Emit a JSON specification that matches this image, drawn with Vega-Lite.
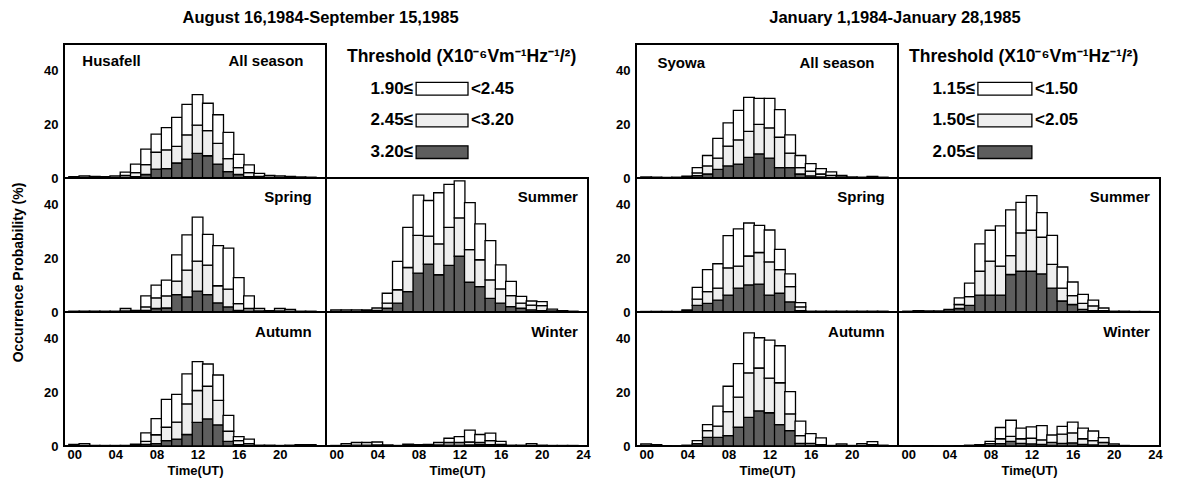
{
"$schema": "https://vega.github.io/schema/vega-lite/v6.json",
"background": "white",
"padding": {"left": 9, "top": 9, "right": 5, "bottom": 5},
"datasets": {"hist": [
{"s":"Husafell","p":"All season","h":0,"a":0,"b":0.1,"c":0.4},{"s":"Husafell","p":"All season","h":1,"a":0,"b":0.2,"c":0.6},{"s":"Husafell","p":"All season","h":2,"a":0,"b":0.1,"c":0.5},{"s":"Husafell","p":"All season","h":3,"a":0,"b":0.1,"c":0.4},{"s":"Husafell","p":"All season","h":4,"a":0.1,"b":0.1,"c":0.6},{"s":"Husafell","p":"All season","h":5,"a":0.3,"b":0.7,"c":1.2},{"s":"Husafell","p":"All season","h":6,"a":0.5,"b":1.5,"c":3.2},{"s":"Husafell","p":"All season","h":7,"a":1.3,"b":3.7,"c":5.8},{"s":"Husafell","p":"All season","h":8,"a":3.3,"b":6.3,"c":6.8},{"s":"Husafell","p":"All season","h":9,"a":3.5,"b":7.0,"c":8.3},{"s":"Husafell","p":"All season","h":10,"a":5.6,"b":6.2,"c":10.8},{"s":"Husafell","p":"All season","h":11,"a":7.0,"b":9.1,"c":11.4},{"s":"Husafell","p":"All season","h":12,"a":9.2,"b":10.5,"c":11.4},{"s":"Husafell","p":"All season","h":13,"a":8.3,"b":9.4,"c":10.2},{"s":"Husafell","p":"All season","h":14,"a":5.2,"b":7.7,"c":10.7},{"s":"Husafell","p":"All season","h":15,"a":2.4,"b":4.8,"c":9.8},{"s":"Husafell","p":"All season","h":16,"a":1.3,"b":2.6,"c":4.9},{"s":"Husafell","p":"All season","h":17,"a":0.5,"b":1.5,"c":2.9},{"s":"Husafell","p":"All season","h":18,"a":0.2,"b":0.4,"c":1.1},{"s":"Husafell","p":"All season","h":19,"a":0.1,"b":0.2,"c":0.7},{"s":"Husafell","p":"All season","h":20,"a":0,"b":0.2,"c":0.6},{"s":"Husafell","p":"All season","h":21,"a":0,"b":0.1,"c":0.5},{"s":"Husafell","p":"All season","h":22,"a":0,"b":0.1,"c":0.3},{"s":"Husafell","p":"All season","h":23,"a":0,"b":0.1,"c":0.2},
{"s":"Husafell","p":"Spring","h":0,"a":0,"b":0.1,"c":0.2},{"s":"Husafell","p":"Spring","h":1,"a":0,"b":0.1,"c":0.2},{"s":"Husafell","p":"Spring","h":2,"a":0,"b":0.1,"c":0.2},{"s":"Husafell","p":"Spring","h":3,"a":0,"b":0.1,"c":0.2},{"s":"Husafell","p":"Spring","h":4,"a":0,"b":0.1,"c":0.2},{"s":"Husafell","p":"Spring","h":5,"a":0.1,"b":0.3,"c":0.9},{"s":"Husafell","p":"Spring","h":6,"a":0,"b":0.2,"c":0.4},{"s":"Husafell","p":"Spring","h":7,"a":0.6,"b":1.3,"c":4.1},{"s":"Husafell","p":"Spring","h":8,"a":1.3,"b":4.0,"c":4.7},{"s":"Husafell","p":"Spring","h":9,"a":1.5,"b":4.5,"c":5.9},{"s":"Husafell","p":"Spring","h":10,"a":6.5,"b":5.0,"c":9.8},{"s":"Husafell","p":"Spring","h":11,"a":5.6,"b":10.0,"c":13.2},{"s":"Husafell","p":"Spring","h":12,"a":7.8,"b":11.2,"c":16.4},{"s":"Husafell","p":"Spring","h":13,"a":6.5,"b":11.0,"c":11.5},{"s":"Husafell","p":"Spring","h":14,"a":3.4,"b":6.4,"c":15.0},{"s":"Husafell","p":"Spring","h":15,"a":1.9,"b":6.6,"c":15.3},{"s":"Husafell","p":"Spring","h":16,"a":0.6,"b":2.5,"c":9.7},{"s":"Husafell","p":"Spring","h":17,"a":0.3,"b":1.0,"c":4.7},{"s":"Husafell","p":"Spring","h":18,"a":0.1,"b":0.3,"c":0.9},{"s":"Husafell","p":"Spring","h":19,"a":0,"b":0.1,"c":0.4},{"s":"Husafell","p":"Spring","h":20,"a":0.1,"b":0.3,"c":0.9},{"s":"Husafell","p":"Spring","h":21,"a":0,"b":0.3,"c":0.7},{"s":"Husafell","p":"Spring","h":22,"a":0,"b":0.1,"c":0.2},{"s":"Husafell","p":"Spring","h":23,"a":0,"b":0.1,"c":0.2},
{"s":"Husafell","p":"Summer","h":0,"a":0,"b":0.2,"c":0.6},{"s":"Husafell","p":"Summer","h":1,"a":0,"b":0.2,"c":0.6},{"s":"Husafell","p":"Summer","h":2,"a":0,"b":0.2,"c":0.6},{"s":"Husafell","p":"Summer","h":3,"a":0.1,"b":0.2,"c":0.5},{"s":"Husafell","p":"Summer","h":4,"a":0.2,"b":0.4,"c":0.9},{"s":"Husafell","p":"Summer","h":5,"a":1.4,"b":1.9,"c":3.7},{"s":"Husafell","p":"Summer","h":6,"a":3.3,"b":5.0,"c":10.6},{"s":"Husafell","p":"Summer","h":7,"a":7.6,"b":9.0,"c":15.0},{"s":"Husafell","p":"Summer","h":8,"a":14.5,"b":14.1,"c":15.0},{"s":"Husafell","p":"Summer","h":9,"a":17.9,"b":10.4,"c":13.3},{"s":"Husafell","p":"Summer","h":10,"a":13.9,"b":11.5,"c":19.1},{"s":"Husafell","p":"Summer","h":11,"a":17.4,"b":14.2,"c":16.0},{"s":"Husafell","p":"Summer","h":12,"a":20.8,"b":14.3,"c":13.8},{"s":"Husafell","p":"Summer","h":13,"a":11.1,"b":12.2,"c":17.5},{"s":"Husafell","p":"Summer","h":14,"a":9.5,"b":10.0,"c":13.4},{"s":"Husafell","p":"Summer","h":15,"a":5.1,"b":6.9,"c":14.6},{"s":"Husafell","p":"Summer","h":16,"a":3.3,"b":5.3,"c":9.0},{"s":"Husafell","p":"Summer","h":17,"a":2.0,"b":4.1,"c":5.3},{"s":"Husafell","p":"Summer","h":18,"a":1.4,"b":1.9,"c":2.5},{"s":"Husafell","p":"Summer","h":19,"a":0.8,"b":1.8,"c":1.5},{"s":"Husafell","p":"Summer","h":20,"a":0.5,"b":1.9,"c":1.5},{"s":"Husafell","p":"Summer","h":21,"a":0.1,"b":0.3,"c":0.7},{"s":"Husafell","p":"Summer","h":22,"a":0,"b":0.1,"c":0.4},{"s":"Husafell","p":"Summer","h":23,"a":0,"b":0.1,"c":0.2},
{"s":"Husafell","p":"Autumn","h":0,"a":0,"b":0.1,"c":0.5},{"s":"Husafell","p":"Autumn","h":1,"a":0,"b":0.2,"c":0.7},{"s":"Husafell","p":"Autumn","h":2,"a":0,"b":0,"c":0.2},{"s":"Husafell","p":"Autumn","h":3,"a":0,"b":0,"c":0.2},{"s":"Husafell","p":"Autumn","h":4,"a":0,"b":0,"c":0.2},{"s":"Husafell","p":"Autumn","h":5,"a":0,"b":0,"c":0.2},{"s":"Husafell","p":"Autumn","h":6,"a":0,"b":0.2,"c":0.5},{"s":"Husafell","p":"Autumn","h":7,"a":0.6,"b":1.1,"c":3.2},{"s":"Husafell","p":"Autumn","h":8,"a":0.9,"b":3.3,"c":6.0},{"s":"Husafell","p":"Autumn","h":9,"a":2.0,"b":5.0,"c":10.4},{"s":"Husafell","p":"Autumn","h":10,"a":2.6,"b":6.3,"c":10.4},{"s":"Husafell","p":"Autumn","h":11,"a":4.3,"b":11.4,"c":11.2},{"s":"Husafell","p":"Autumn","h":12,"a":8.8,"b":11.9,"c":10.8},{"s":"Husafell","p":"Autumn","h":13,"a":10.1,"b":12.2,"c":8.3},{"s":"Husafell","p":"Autumn","h":14,"a":7.9,"b":9.1,"c":9.5},{"s":"Husafell","p":"Autumn","h":15,"a":1.7,"b":3.8,"c":5.9},{"s":"Husafell","p":"Autumn","h":16,"a":0.5,"b":1.5,"c":1.5},{"s":"Husafell","p":"Autumn","h":17,"a":0.2,"b":0.7,"c":1.7},{"s":"Husafell","p":"Autumn","h":18,"a":0,"b":0.1,"c":0.2},{"s":"Husafell","p":"Autumn","h":19,"a":0,"b":0.1,"c":0.2},{"s":"Husafell","p":"Autumn","h":20,"a":0,"b":0,"c":0.2},{"s":"Husafell","p":"Autumn","h":21,"a":0,"b":0.1,"c":0.2},{"s":"Husafell","p":"Autumn","h":22,"a":0,"b":0.1,"c":0.4},{"s":"Husafell","p":"Autumn","h":23,"a":0,"b":0.1,"c":0.4},
{"s":"Husafell","p":"Winter","h":0,"a":0,"b":0,"c":0.2},{"s":"Husafell","p":"Winter","h":1,"a":0,"b":0.2,"c":0.7},{"s":"Husafell","p":"Winter","h":2,"a":0,"b":0.3,"c":1.0},{"s":"Husafell","p":"Winter","h":3,"a":0,"b":0.3,"c":1.0},{"s":"Husafell","p":"Winter","h":4,"a":0.1,"b":0.3,"c":1.1},{"s":"Husafell","p":"Winter","h":5,"a":0,"b":0.1,"c":0.3},{"s":"Husafell","p":"Winter","h":6,"a":0,"b":0,"c":0.2},{"s":"Husafell","p":"Winter","h":7,"a":0,"b":0.2,"c":0.5},{"s":"Husafell","p":"Winter","h":8,"a":0,"b":0.1,"c":0.4},{"s":"Husafell","p":"Winter","h":9,"a":0,"b":0.1,"c":0.5},{"s":"Husafell","p":"Winter","h":10,"a":0.1,"b":0.3,"c":0.9},{"s":"Husafell","p":"Winter","h":11,"a":0.3,"b":1.0,"c":1.6},{"s":"Husafell","p":"Winter","h":12,"a":0.3,"b":1.0,"c":2.2},{"s":"Husafell","p":"Winter","h":13,"a":0.4,"b":1.1,"c":4.4},{"s":"Husafell","p":"Winter","h":14,"a":0.5,"b":0.8,"c":3.0},{"s":"Husafell","p":"Winter","h":15,"a":0.5,"b":1.5,"c":2.8},{"s":"Husafell","p":"Winter","h":16,"a":0.2,"b":0.4,"c":1.1},{"s":"Husafell","p":"Winter","h":17,"a":0,"b":0.1,"c":0.2},{"s":"Husafell","p":"Winter","h":18,"a":0,"b":0.1,"c":0.2},{"s":"Husafell","p":"Winter","h":19,"a":0,"b":0.2,"c":0.7},{"s":"Husafell","p":"Winter","h":20,"a":0,"b":0.1,"c":0.2},{"s":"Husafell","p":"Winter","h":21,"a":0,"b":0,"c":0.2},{"s":"Husafell","p":"Winter","h":22,"a":0,"b":0,"c":0.2},{"s":"Husafell","p":"Winter","h":23,"a":0,"b":0,"c":0.2},
{"s":"Syowa","p":"All season","h":0,"a":0,"b":0.1,"c":0.3},{"s":"Syowa","p":"All season","h":1,"a":0,"b":0.1,"c":0.2},{"s":"Syowa","p":"All season","h":2,"a":0,"b":0,"c":0.2},{"s":"Syowa","p":"All season","h":3,"a":0,"b":0.1,"c":0.2},{"s":"Syowa","p":"All season","h":4,"a":0.1,"b":0.2,"c":0.4},{"s":"Syowa","p":"All season","h":5,"a":0.9,"b":1.0,"c":2.0},{"s":"Syowa","p":"All season","h":6,"a":1.5,"b":3.0,"c":3.9},{"s":"Syowa","p":"All season","h":7,"a":3.2,"b":4.2,"c":7.4},{"s":"Syowa","p":"All season","h":8,"a":4.5,"b":7.4,"c":8.7},{"s":"Syowa","p":"All season","h":9,"a":5.2,"b":9.0,"c":11.0},{"s":"Syowa","p":"All season","h":10,"a":7.7,"b":9.7,"c":12.7},{"s":"Syowa","p":"All season","h":11,"a":9.0,"b":11.0,"c":9.7},{"s":"Syowa","p":"All season","h":12,"a":7.4,"b":11.3,"c":11.0},{"s":"Syowa","p":"All season","h":13,"a":3.9,"b":11.3,"c":10.3},{"s":"Syowa","p":"All season","h":14,"a":3.9,"b":5.4,"c":6.8},{"s":"Syowa","p":"All season","h":15,"a":1.5,"b":2.4,"c":4.5},{"s":"Syowa","p":"All season","h":16,"a":0.8,"b":1.8,"c":2.8},{"s":"Syowa","p":"All season","h":17,"a":0.4,"b":1.1,"c":2.0},{"s":"Syowa","p":"All season","h":18,"a":0.2,"b":0.8,"c":1.3},{"s":"Syowa","p":"All season","h":19,"a":0.1,"b":0.3,"c":0.6},{"s":"Syowa","p":"All season","h":20,"a":0,"b":0.1,"c":0.3},{"s":"Syowa","p":"All season","h":21,"a":0,"b":0.1,"c":0.2},{"s":"Syowa","p":"All season","h":22,"a":0,"b":0.2,"c":0.4},{"s":"Syowa","p":"All season","h":23,"a":0,"b":0.1,"c":0.2},
{"s":"Syowa","p":"Spring","h":0,"a":0,"b":0.1,"c":0.1},{"s":"Syowa","p":"Spring","h":1,"a":0,"b":0.1,"c":0.1},{"s":"Syowa","p":"Spring","h":2,"a":0,"b":0.1,"c":0.1},{"s":"Syowa","p":"Spring","h":3,"a":0,"b":0.1,"c":0.1},{"s":"Syowa","p":"Spring","h":4,"a":0.1,"b":0.2,"c":0.5},{"s":"Syowa","p":"Spring","h":5,"a":2.5,"b":2.3,"c":4.4},{"s":"Syowa","p":"Spring","h":6,"a":3.2,"b":4.4,"c":8.2},{"s":"Syowa","p":"Spring","h":7,"a":4.4,"b":4.5,"c":9.1},{"s":"Syowa","p":"Spring","h":8,"a":6.3,"b":10.2,"c":12.0},{"s":"Syowa","p":"Spring","h":9,"a":8.9,"b":8.2,"c":13.9},{"s":"Syowa","p":"Spring","h":10,"a":10.1,"b":10.8,"c":12.3},{"s":"Syowa","p":"Spring","h":11,"a":10.4,"b":11.8,"c":10.1},{"s":"Syowa","p":"Spring","h":12,"a":6.3,"b":12.4,"c":11.9},{"s":"Syowa","p":"Spring","h":13,"a":7.0,"b":8.8,"c":7.6},{"s":"Syowa","p":"Spring","h":14,"a":3.8,"b":5.7,"c":4.7},{"s":"Syowa","p":"Spring","h":15,"a":0.5,"b":1.4,"c":1.6},{"s":"Syowa","p":"Spring","h":16,"a":0,"b":0.1,"c":0.2},{"s":"Syowa","p":"Spring","h":17,"a":0,"b":0.1,"c":0.2},{"s":"Syowa","p":"Spring","h":18,"a":0,"b":0.1,"c":0.2},{"s":"Syowa","p":"Spring","h":19,"a":0,"b":0.1,"c":0.2},{"s":"Syowa","p":"Spring","h":20,"a":0,"b":0.1,"c":0.2},{"s":"Syowa","p":"Spring","h":21,"a":0,"b":0.1,"c":0.2},{"s":"Syowa","p":"Spring","h":22,"a":0,"b":0.1,"c":0.2},{"s":"Syowa","p":"Spring","h":23,"a":0,"b":0.1,"c":0.2},
{"s":"Syowa","p":"Summer","h":0,"a":0,"b":0.1,"c":0.2},{"s":"Syowa","p":"Summer","h":1,"a":0,"b":0.1,"c":0.4},{"s":"Syowa","p":"Summer","h":2,"a":0,"b":0.1,"c":0.3},{"s":"Syowa","p":"Summer","h":3,"a":0,"b":0.1,"c":0.3},{"s":"Syowa","p":"Summer","h":4,"a":0.1,"b":0.3,"c":0.6},{"s":"Syowa","p":"Summer","h":5,"a":1.3,"b":1.5,"c":2.5},{"s":"Syowa","p":"Summer","h":6,"a":2.5,"b":3.2,"c":5.1},{"s":"Syowa","p":"Summer","h":7,"a":6.3,"b":8.9,"c":10.2},{"s":"Syowa","p":"Summer","h":8,"a":6.3,"b":12.7,"c":11.5},{"s":"Syowa","p":"Summer","h":9,"a":6.3,"b":10.8,"c":15.0},{"s":"Syowa","p":"Summer","h":10,"a":14.0,"b":7.0,"c":17.1},{"s":"Syowa","p":"Summer","h":11,"a":15.2,"b":14.3,"c":11.4},{"s":"Syowa","p":"Summer","h":12,"a":15.2,"b":15.3,"c":12.9},{"s":"Syowa","p":"Summer","h":13,"a":14.2,"b":13.7,"c":9.2},{"s":"Syowa","p":"Summer","h":14,"a":8.9,"b":8.9,"c":10.8},{"s":"Syowa","p":"Summer","h":15,"a":4.1,"b":4.8,"c":7.9},{"s":"Syowa","p":"Summer","h":16,"a":2.8,"b":3.3,"c":5.1},{"s":"Syowa","p":"Summer","h":17,"a":1.0,"b":2.2,"c":3.4},{"s":"Syowa","p":"Summer","h":18,"a":0.5,"b":1.8,"c":2.1},{"s":"Syowa","p":"Summer","h":19,"a":0.1,"b":0.4,"c":1.0},{"s":"Syowa","p":"Summer","h":20,"a":0,"b":0.1,"c":0.2},{"s":"Syowa","p":"Summer","h":21,"a":0,"b":0.1,"c":0.2},{"s":"Syowa","p":"Summer","h":22,"a":0,"b":0,"c":0.2},{"s":"Syowa","p":"Summer","h":23,"a":0,"b":0,"c":0.2},
{"s":"Syowa","p":"Autumn","h":0,"a":0,"b":0.2,"c":0.6},{"s":"Syowa","p":"Autumn","h":1,"a":0,"b":0.1,"c":0.4},{"s":"Syowa","p":"Autumn","h":2,"a":0,"b":0,"c":0.1},{"s":"Syowa","p":"Autumn","h":3,"a":0,"b":0,"c":0.1},{"s":"Syowa","p":"Autumn","h":4,"a":0,"b":0.1,"c":0.2},{"s":"Syowa","p":"Autumn","h":5,"a":0.3,"b":0.6,"c":1.1},{"s":"Syowa","p":"Autumn","h":6,"a":3.2,"b":2.5,"c":2.3},{"s":"Syowa","p":"Autumn","h":7,"a":3.2,"b":4.2,"c":7.5},{"s":"Syowa","p":"Autumn","h":8,"a":3.9,"b":8.9,"c":9.5},{"s":"Syowa","p":"Autumn","h":9,"a":7.0,"b":11.2,"c":12.5},{"s":"Syowa","p":"Autumn","h":10,"a":10.7,"b":16.6,"c":14.9},{"s":"Syowa","p":"Autumn","h":11,"a":13.1,"b":16.0,"c":11.3},{"s":"Syowa","p":"Autumn","h":12,"a":12.4,"b":12.9,"c":14.2},{"s":"Syowa","p":"Autumn","h":13,"a":8.0,"b":15.6,"c":13.8},{"s":"Syowa","p":"Autumn","h":14,"a":5.7,"b":6.3,"c":8.3},{"s":"Syowa","p":"Autumn","h":15,"a":1.0,"b":2.9,"c":5.4},{"s":"Syowa","p":"Autumn","h":16,"a":0.3,"b":0.7,"c":3.6},{"s":"Syowa","p":"Autumn","h":17,"a":0.1,"b":0.4,"c":2.5},{"s":"Syowa","p":"Autumn","h":18,"a":0,"b":0,"c":0.2},{"s":"Syowa","p":"Autumn","h":19,"a":0,"b":0.2,"c":0.6},{"s":"Syowa","p":"Autumn","h":20,"a":0,"b":0,"c":0.2},{"s":"Syowa","p":"Autumn","h":21,"a":0,"b":0.2,"c":0.7},{"s":"Syowa","p":"Autumn","h":22,"a":0.1,"b":0.4,"c":1.1},{"s":"Syowa","p":"Autumn","h":23,"a":0,"b":0.1,"c":0.2},
{"s":"Syowa","p":"Winter","h":0,"a":0,"b":0,"c":0.1},{"s":"Syowa","p":"Winter","h":1,"a":0,"b":0,"c":0.1},{"s":"Syowa","p":"Winter","h":2,"a":0,"b":0,"c":0.1},{"s":"Syowa","p":"Winter","h":3,"a":0,"b":0,"c":0.1},{"s":"Syowa","p":"Winter","h":4,"a":0,"b":0,"c":0.1},{"s":"Syowa","p":"Winter","h":5,"a":0,"b":0,"c":0.1},{"s":"Syowa","p":"Winter","h":6,"a":0,"b":0.1,"c":0.2},{"s":"Syowa","p":"Winter","h":7,"a":0,"b":0.1,"c":0.4},{"s":"Syowa","p":"Winter","h":8,"a":0.2,"b":0.7,"c":0.8},{"s":"Syowa","p":"Winter","h":9,"a":0.9,"b":1.8,"c":4.2},{"s":"Syowa","p":"Winter","h":10,"a":1.7,"b":1.9,"c":6.0},{"s":"Syowa","p":"Winter","h":11,"a":1.0,"b":1.7,"c":4.0},{"s":"Syowa","p":"Winter","h":12,"a":0.8,"b":2.1,"c":4.2},{"s":"Syowa","p":"Winter","h":13,"a":0.6,"b":1.7,"c":5.3},{"s":"Syowa","p":"Winter","h":14,"a":0.3,"b":1.0,"c":2.8},{"s":"Syowa","p":"Winter","h":15,"a":1.0,"b":3.4,"c":2.9},{"s":"Syowa","p":"Winter","h":16,"a":1.2,"b":3.7,"c":4.0},{"s":"Syowa","p":"Winter","h":17,"a":0.6,"b":2.1,"c":4.0},{"s":"Syowa","p":"Winter","h":18,"a":0.4,"b":1.6,"c":3.6},{"s":"Syowa","p":"Winter","h":19,"a":0.2,"b":1.1,"c":1.8},{"s":"Syowa","p":"Winter","h":20,"a":0,"b":0.2,"c":0.6},{"s":"Syowa","p":"Winter","h":21,"a":0,"b":0,"c":0.2},{"s":"Syowa","p":"Winter","h":22,"a":0,"b":0,"c":0.1},{"s":"Syowa","p":"Winter","h":23,"a":0,"b":0,"c":0.1}
]},
"data": {"name": "hist"},
"config": {
  "font": "Liberation Sans",
  "view": {"stroke": "black", "strokeWidth": 2},
  "axis": {"labelFont": "Liberation Sans", "labelFontWeight": "bold", "labelFontSize": 13, "labelColor": "black", "titleColor": "black", "titleFont": "Liberation Sans", "titleFontWeight": "bold", "titleFontSize": 13, "ticks": false, "domain": false, "grid": false},
  "axisX": {"labelPadding": 2, "titlePadding": 3},
  "axisY": {"labelPadding": 6},
  "bar": {"stroke": "black", "strokeWidth": 1.3},
  "text": {"font": "Liberation Sans", "fontWeight": "bold", "color": "black"},
  "concat": {"spacing": 0},
  "title": {"font": "Liberation Sans", "fontSize": 16.5, "fontWeight": "bold", "color": "black", "offset": 17, "anchor": "middle"}
},
"spacing": 22,
"hconcat": [
 {"title": {"text": "August 16,1984-September 15,1985", "dx": 20}, "columns": 2, "spacing": 0, "bounds": "flush", "concat": [
   {"width": 262, "height": 134, "layer": [
    {"transform": [{"filter": "datum.s==='Husafell'&&datum.p==='All season'"}, {"fold": ["a","b","c"], "as": ["k","v"]}],
     "mark": {"type": "bar", "width": 10.7},
     "encoding": {"x": {"field": "h", "type": "quantitative", "scale": {"domain": [-0.5, 24], "nice": false, "zero": false}, "axis": null},
      "y": {"field": "v", "type": "quantitative", "stack": "zero", "scale": {"domain": [0, 50], "nice": false}, "axis": {"values": [0, 20, 40], "title": null}},
      "fill": {"field": "k", "type": "nominal", "scale": {"domain": ["a","b","c"], "range": ["#5e5e5e","#eeeeee","#ffffff"]}, "legend": null},
      "order": {"field": "k", "type": "ordinal", "sort": "ascending"}}},
    {"data": {"values": [{"t": "Husafell"}]}, "mark": {"type": "text", "align": "left", "baseline": "middle", "fontSize": 15}, "encoding": {"x": {"datum": 0.8, "type": "quantitative"}, "y": {"datum": 43.5, "type": "quantitative"}, "text": {"field": "t", "type": "nominal"}}},
    {"data": {"values": [{"t": "All season"}]}, "mark": {"type": "text", "align": "right", "baseline": "middle", "fontSize": 15}, "encoding": {"x": {"datum": 22.3, "type": "quantitative"}, "y": {"datum": 43.5, "type": "quantitative"}, "text": {"field": "t", "type": "nominal"}}}
   ]},
   {"width": 262, "height": 134, "view": {"stroke": null},
    "data": {"values": [{"lo": "1.90≤", "hi": "<2.45", "k": "c"}, {"lo": "2.45≤", "hi": "<3.20", "k": "b"}, {"lo": "3.20≤", "hi": "", "k": "a"}]},
    "layer": [
     {"data": {"values": [{"t": "Threshold (X10⁻⁶Vm⁻¹Hz⁻¹/²)"}]}, "mark": {"type": "text", "align": "left", "baseline": "middle", "fontSize": 17.5},
      "encoding": {"x": {"datum": 0.08, "type": "quantitative", "scale": {"domain": [0, 1], "nice": false, "zero": false}, "axis": null},
       "y": {"datum": "T", "type": "nominal", "scale": {"type": "band", "domain": ["T", "1.90≤", "2.45≤", "3.20≤"], "paddingInner": 0.6, "paddingOuter": 0.413, "align": 0.256}, "axis": null},
       "text": {"field": "t", "type": "nominal"}}},
     {"mark": {"type": "text", "align": "right", "baseline": "middle", "fontSize": 17},
      "encoding": {"x": {"datum": 0.332, "type": "quantitative"}, "y": {"field": "lo", "type": "nominal"}, "text": {"field": "lo", "type": "nominal"}}},
     {"mark": {"type": "bar"},
      "encoding": {"x": {"datum": 0.344, "type": "quantitative"}, "x2": {"datum": 0.542}, "y": {"field": "lo", "type": "nominal"},
       "fill": {"field": "k", "type": "nominal", "scale": {"domain": ["a","b","c"], "range": ["#5e5e5e","#eeeeee","#ffffff"]}, "legend": null}}},
     {"mark": {"type": "text", "align": "left", "baseline": "middle", "fontSize": 17},
      "encoding": {"x": {"datum": 0.553, "type": "quantitative"}, "y": {"field": "lo", "type": "nominal"}, "text": {"field": "hi", "type": "nominal"}}}
    ]},
   {"width": 262, "height": 134, "layer": [
    {"transform": [{"filter": "datum.s==='Husafell'&&datum.p==='Spring'"}, {"fold": ["a","b","c"], "as": ["k","v"]}],
     "mark": {"type": "bar", "width": 10.7},
     "encoding": {"x": {"field": "h", "type": "quantitative", "scale": {"domain": [-0.5, 24], "nice": false, "zero": false}, "axis": null},
      "y": {"field": "v", "type": "quantitative", "stack": "zero", "scale": {"domain": [0, 50], "nice": false}, "axis": {"values": [0, 20, 40], "title": "Occurrence Probability (%)", "titleFontSize": 14, "titleX": -46, "titleY": 94, "titleBaseline": "middle", "titleAngle": 270}},
      "fill": {"field": "k", "type": "nominal", "scale": {"domain": ["a","b","c"], "range": ["#5e5e5e","#eeeeee","#ffffff"]}, "legend": null},
      "order": {"field": "k", "type": "ordinal", "sort": "ascending"}}},
    {"data": {"values": [{"t": "Spring"}]}, "mark": {"type": "text", "align": "right", "baseline": "middle", "fontSize": 15}, "encoding": {"x": {"datum": 23.1, "type": "quantitative"}, "y": {"datum": 42.8, "type": "quantitative"}, "text": {"field": "t", "type": "nominal"}}}
   ]},
   {"width": 262, "height": 134, "layer": [
    {"transform": [{"filter": "datum.s==='Husafell'&&datum.p==='Summer'"}, {"fold": ["a","b","c"], "as": ["k","v"]}],
     "mark": {"type": "bar", "width": 10.7},
     "encoding": {"x": {"field": "h", "type": "quantitative", "scale": {"domain": [-0.5, 24], "nice": false, "zero": false}, "axis": null},
      "y": {"field": "v", "type": "quantitative", "stack": "zero", "scale": {"domain": [0, 50], "nice": false}, "axis": null},
      "fill": {"field": "k", "type": "nominal", "scale": {"domain": ["a","b","c"], "range": ["#5e5e5e","#eeeeee","#ffffff"]}, "legend": null},
      "order": {"field": "k", "type": "ordinal", "sort": "ascending"}}},
    {"data": {"values": [{"t": "Summer"}]}, "mark": {"type": "text", "align": "right", "baseline": "middle", "fontSize": 15}, "encoding": {"x": {"datum": 23.5, "type": "quantitative"}, "y": {"datum": 42.8, "type": "quantitative"}, "text": {"field": "t", "type": "nominal"}}}
   ]},
   {"width": 262, "height": 134, "layer": [
    {"transform": [{"filter": "datum.s==='Husafell'&&datum.p==='Autumn'"}, {"fold": ["a","b","c"], "as": ["k","v"]}],
     "mark": {"type": "bar", "width": 10.7},
     "encoding": {"x": {"field": "h", "type": "quantitative", "scale": {"domain": [-0.5, 24], "nice": false, "zero": false}, "axis": {"values": [0, 4, 8, 12, 16, 20], "format": "02d", "title": "Time(UT)"}},
      "y": {"field": "v", "type": "quantitative", "stack": "zero", "scale": {"domain": [0, 50], "nice": false}, "axis": {"values": [0, 20, 40], "title": null}},
      "fill": {"field": "k", "type": "nominal", "scale": {"domain": ["a","b","c"], "range": ["#5e5e5e","#eeeeee","#ffffff"]}, "legend": null},
      "order": {"field": "k", "type": "ordinal", "sort": "ascending"}}},
    {"data": {"values": [{"t": "Autumn"}]}, "mark": {"type": "text", "align": "right", "baseline": "middle", "fontSize": 15}, "encoding": {"x": {"datum": 23.1, "type": "quantitative"}, "y": {"datum": 42.5, "type": "quantitative"}, "text": {"field": "t", "type": "nominal"}}}
   ]},
   {"width": 262, "height": 134, "layer": [
    {"transform": [{"filter": "datum.s==='Husafell'&&datum.p==='Winter'"}, {"fold": ["a","b","c"], "as": ["k","v"]}],
     "mark": {"type": "bar", "width": 10.7},
     "encoding": {"x": {"field": "h", "type": "quantitative", "scale": {"domain": [-0.5, 24], "nice": false, "zero": false}, "axis": {"values": [0, 4, 8, 12, 16, 20, 24], "format": "02d", "title": "Time(UT)"}},
      "y": {"field": "v", "type": "quantitative", "stack": "zero", "scale": {"domain": [0, 50], "nice": false}, "axis": null},
      "fill": {"field": "k", "type": "nominal", "scale": {"domain": ["a","b","c"], "range": ["#5e5e5e","#eeeeee","#ffffff"]}, "legend": null},
      "order": {"field": "k", "type": "ordinal", "sort": "ascending"}}},
    {"data": {"values": [{"t": "Winter"}]}, "mark": {"type": "text", "align": "right", "baseline": "middle", "fontSize": 15}, "encoding": {"x": {"datum": 23.5, "type": "quantitative"}, "y": {"datum": 42.5, "type": "quantitative"}, "text": {"field": "t", "type": "nominal"}}}
   ]}
 ]},
 {"title": {"text": "January 1,1984-January 28,1985", "dx": 6}, "columns": 2, "spacing": 0, "bounds": "flush", "concat": [
   {"width": 262, "height": 134, "layer": [
    {"transform": [{"filter": "datum.s==='Syowa'&&datum.p==='All season'"}, {"fold": ["a","b","c"], "as": ["k","v"]}],
     "mark": {"type": "bar", "width": 10.7},
     "encoding": {"x": {"field": "h", "type": "quantitative", "scale": {"domain": [-0.5, 24], "nice": false, "zero": false}, "axis": null},
      "y": {"field": "v", "type": "quantitative", "stack": "zero", "scale": {"domain": [0, 50], "nice": false}, "axis": {"values": [0, 20, 40], "title": null}},
      "fill": {"field": "k", "type": "nominal", "scale": {"domain": ["a","b","c"], "range": ["#5e5e5e","#eeeeee","#ffffff"]}, "legend": null},
      "order": {"field": "k", "type": "ordinal", "sort": "ascending"}}},
    {"data": {"values": [{"t": "Syowa"}]}, "mark": {"type": "text", "align": "left", "baseline": "middle", "fontSize": 15}, "encoding": {"x": {"datum": 1.1, "type": "quantitative"}, "y": {"datum": 43.0, "type": "quantitative"}, "text": {"field": "t", "type": "nominal"}}},
    {"data": {"values": [{"t": "All season"}]}, "mark": {"type": "text", "align": "right", "baseline": "middle", "fontSize": 15}, "encoding": {"x": {"datum": 22.2, "type": "quantitative"}, "y": {"datum": 43.0, "type": "quantitative"}, "text": {"field": "t", "type": "nominal"}}}
   ]},
   {"width": 262, "height": 134, "view": {"stroke": null},
    "data": {"values": [{"lo": "1.15≤", "hi": "<1.50", "k": "c"}, {"lo": "1.50≤", "hi": "<2.05", "k": "b"}, {"lo": "2.05≤", "hi": "", "k": "a"}]},
    "layer": [
     {"data": {"values": [{"t": "Threshold (X10⁻⁶Vm⁻¹Hz⁻¹/²)"}]}, "mark": {"type": "text", "align": "left", "baseline": "middle", "fontSize": 17.5},
      "encoding": {"x": {"datum": 0.042, "type": "quantitative", "scale": {"domain": [0, 1], "nice": false, "zero": false}, "axis": null},
       "y": {"datum": "T", "type": "nominal", "scale": {"type": "band", "domain": ["T", "1.15≤", "1.50≤", "2.05≤"], "paddingInner": 0.6, "paddingOuter": 0.413, "align": 0.256}, "axis": null},
       "text": {"field": "t", "type": "nominal"}}},
     {"mark": {"type": "text", "align": "right", "baseline": "middle", "fontSize": 17},
      "encoding": {"x": {"datum": 0.294, "type": "quantitative"}, "y": {"field": "lo", "type": "nominal"}, "text": {"field": "lo", "type": "nominal"}}},
     {"mark": {"type": "bar"},
      "encoding": {"x": {"datum": 0.305, "type": "quantitative"}, "x2": {"datum": 0.511}, "y": {"field": "lo", "type": "nominal"},
       "fill": {"field": "k", "type": "nominal", "scale": {"domain": ["a","b","c"], "range": ["#5e5e5e","#eeeeee","#ffffff"]}, "legend": null}}},
     {"mark": {"type": "text", "align": "left", "baseline": "middle", "fontSize": 17},
      "encoding": {"x": {"datum": 0.523, "type": "quantitative"}, "y": {"field": "lo", "type": "nominal"}, "text": {"field": "hi", "type": "nominal"}}}
    ]},
   {"width": 262, "height": 134, "layer": [
    {"transform": [{"filter": "datum.s==='Syowa'&&datum.p==='Spring'"}, {"fold": ["a","b","c"], "as": ["k","v"]}],
     "mark": {"type": "bar", "width": 10.7},
     "encoding": {"x": {"field": "h", "type": "quantitative", "scale": {"domain": [-0.5, 24], "nice": false, "zero": false}, "axis": null},
      "y": {"field": "v", "type": "quantitative", "stack": "zero", "scale": {"domain": [0, 50], "nice": false}, "axis": {"values": [0, 20, 40], "title": null}},
      "fill": {"field": "k", "type": "nominal", "scale": {"domain": ["a","b","c"], "range": ["#5e5e5e","#eeeeee","#ffffff"]}, "legend": null},
      "order": {"field": "k", "type": "ordinal", "sort": "ascending"}}},
    {"data": {"values": [{"t": "Spring"}]}, "mark": {"type": "text", "align": "right", "baseline": "middle", "fontSize": 15}, "encoding": {"x": {"datum": 23.2, "type": "quantitative"}, "y": {"datum": 42.8, "type": "quantitative"}, "text": {"field": "t", "type": "nominal"}}}
   ]},
   {"width": 262, "height": 134, "layer": [
    {"transform": [{"filter": "datum.s==='Syowa'&&datum.p==='Summer'"}, {"fold": ["a","b","c"], "as": ["k","v"]}],
     "mark": {"type": "bar", "width": 10.7},
     "encoding": {"x": {"field": "h", "type": "quantitative", "scale": {"domain": [-0.5, 24], "nice": false, "zero": false}, "axis": null},
      "y": {"field": "v", "type": "quantitative", "stack": "zero", "scale": {"domain": [0, 50], "nice": false}, "axis": null},
      "fill": {"field": "k", "type": "nominal", "scale": {"domain": ["a","b","c"], "range": ["#5e5e5e","#eeeeee","#ffffff"]}, "legend": null},
      "order": {"field": "k", "type": "ordinal", "sort": "ascending"}}},
    {"data": {"values": [{"t": "Summer"}]}, "mark": {"type": "text", "align": "right", "baseline": "middle", "fontSize": 15}, "encoding": {"x": {"datum": 23.5, "type": "quantitative"}, "y": {"datum": 42.8, "type": "quantitative"}, "text": {"field": "t", "type": "nominal"}}}
   ]},
   {"width": 262, "height": 134, "layer": [
    {"transform": [{"filter": "datum.s==='Syowa'&&datum.p==='Autumn'"}, {"fold": ["a","b","c"], "as": ["k","v"]}],
     "mark": {"type": "bar", "width": 10.7},
     "encoding": {"x": {"field": "h", "type": "quantitative", "scale": {"domain": [-0.5, 24], "nice": false, "zero": false}, "axis": {"values": [0, 4, 8, 12, 16, 20], "format": "02d", "title": "Time(UT)"}},
      "y": {"field": "v", "type": "quantitative", "stack": "zero", "scale": {"domain": [0, 50], "nice": false}, "axis": {"values": [0, 20, 40], "title": null}},
      "fill": {"field": "k", "type": "nominal", "scale": {"domain": ["a","b","c"], "range": ["#5e5e5e","#eeeeee","#ffffff"]}, "legend": null},
      "order": {"field": "k", "type": "ordinal", "sort": "ascending"}}},
    {"data": {"values": [{"t": "Autumn"}]}, "mark": {"type": "text", "align": "right", "baseline": "middle", "fontSize": 15}, "encoding": {"x": {"datum": 23.2, "type": "quantitative"}, "y": {"datum": 42.5, "type": "quantitative"}, "text": {"field": "t", "type": "nominal"}}}
   ]},
   {"width": 262, "height": 134, "layer": [
    {"transform": [{"filter": "datum.s==='Syowa'&&datum.p==='Winter'"}, {"fold": ["a","b","c"], "as": ["k","v"]}],
     "mark": {"type": "bar", "width": 10.7},
     "encoding": {"x": {"field": "h", "type": "quantitative", "scale": {"domain": [-0.5, 24], "nice": false, "zero": false}, "axis": {"values": [0, 4, 8, 12, 16, 20, 24], "format": "02d", "title": "Time(UT)"}},
      "y": {"field": "v", "type": "quantitative", "stack": "zero", "scale": {"domain": [0, 50], "nice": false}, "axis": null},
      "fill": {"field": "k", "type": "nominal", "scale": {"domain": ["a","b","c"], "range": ["#5e5e5e","#eeeeee","#ffffff"]}, "legend": null},
      "order": {"field": "k", "type": "ordinal", "sort": "ascending"}}},
    {"data": {"values": [{"t": "Winter"}]}, "mark": {"type": "text", "align": "right", "baseline": "middle", "fontSize": 15}, "encoding": {"x": {"datum": 23.5, "type": "quantitative"}, "y": {"datum": 42.5, "type": "quantitative"}, "text": {"field": "t", "type": "nominal"}}}
   ]}
 ]}
]
}
